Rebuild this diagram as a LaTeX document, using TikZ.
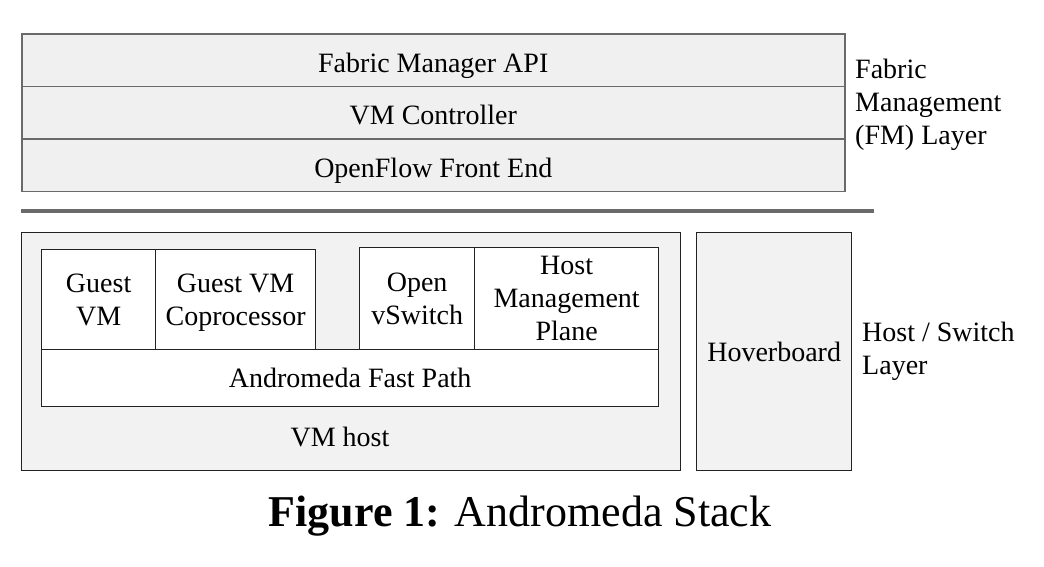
\documentclass[tikz,border=0pt]{standalone}
\usepackage{fontspec}
\setmainfont{Liberation Serif}
\definecolor{fmgray}{HTML}{F0F0F0}
\definecolor{hostgray}{HTML}{F2F2F2}
\definecolor{fmline}{HTML}{6A6A6A}
\definecolor{boxline}{HTML}{222222}
\begin{document}
\begin{tikzpicture}[x=1pt,y=-1pt,
  txt/.style={font=\fontsize{28}{33}\selectfont, align=center},
  fmrow/.style={draw=fmline, line width=1.5pt, fill=fmgray, anchor=north west, inner sep=0pt, minimum width=823pt, minimum height=52.5pt, txt, text height=24pt, text depth=0pt},
  hostbox/.style={draw=boxline, line width=1.3pt, fill=hostgray, anchor=north west, inner sep=0pt, txt},
  inbox/.style={draw=boxline, line width=1.3pt, fill=white, anchor=north west, inner sep=0pt, txt},
  sidelabel/.style={font=\fontsize{28}{33}\selectfont, align=left, anchor=west, inner sep=0pt}
]
\useasboundingbox (0,0) rectangle (1044,566);
% Fabric management layer
\node[fmrow] (api) at (21,33) {Fabric Manager API};
\node[fmrow] (vmc) at (21,85.5) {VM Controller};
\node[fmrow] (ofe) at (21,138) {OpenFlow Front End};
\node[sidelabel] (fmlabel) at (855,105) {Fabric\\Management\\(FM) Layer};
% separator
\coordinate (sepl) at (21,211);
\coordinate (sepr) at (874,211);
\draw[fmline, line width=4pt] (sepl) -- (sepr);
% host layer
\node[hostbox, minimum width=659pt, minimum height=238pt] (vmhost) at (21,232) {};
\node[txt] (vmhosttxt) at (340,437) {VM host};
\node[inbox, minimum width=114pt, minimum height=100pt] (guest) at (41,249) {Guest\\VM};
\node[inbox, minimum width=160pt, minimum height=100pt, text depth=0pt] (cop) at (155,249) {Guest VM\\Coprocessor};
\node[inbox, minimum width=115pt, minimum height=102pt] (ovs) at (359,247) {Open\\vSwitch};
\node[inbox, minimum width=184pt, minimum height=102pt] (hmp) at (474,247) {Host\\Management\\Plane};
\node[inbox, minimum width=617pt, minimum height=57pt] (fast) at (41,349) {Andromeda Fast Path};
\node[hostbox, minimum width=155pt, minimum height=238pt] (hover) at (696,232) {Hoverboard};
\node[sidelabel] (hslabel) at (862,351) {Host / Switch\\Layer};
% caption
\node[font=\fontsize{44}{52}\selectfont, inner sep=0pt] (caption) at (520,516) {\textbf{Figure 1:} Andromeda Stack};
\end{tikzpicture}
\end{document}
